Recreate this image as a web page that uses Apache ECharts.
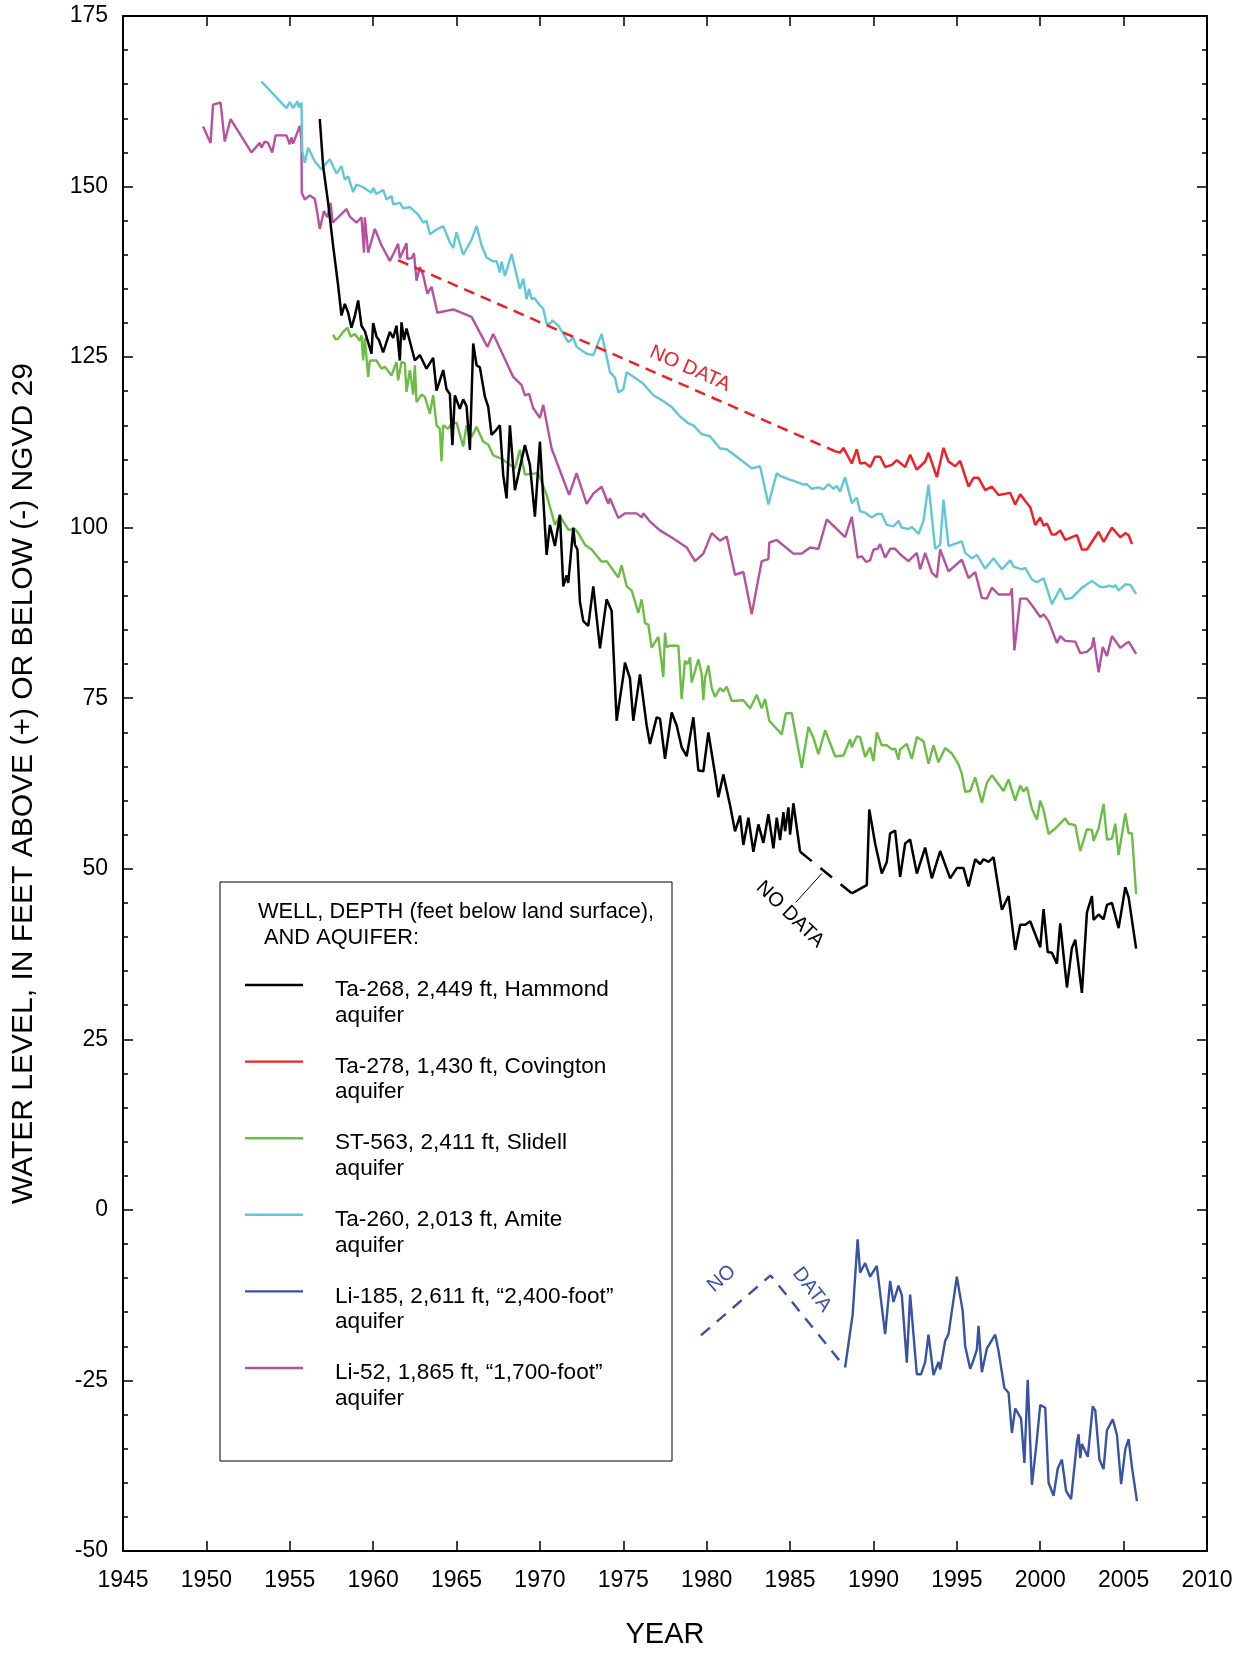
<!DOCTYPE html>
<html><head><meta charset="utf-8">
<script src="https://cdn.jsdelivr.net/npm/echarts/dist/echarts.min.js"></script>
<style>html,body{margin:0;padding:0;background:#fff}#chart{width:1249px;height:1654px}</style>
</head><body><div id="chart"></div>
<script>
// ---------------- DATA (year, water level in ft) ----------------
const ta268A = [[1956.8,159.9],[1957.0,153.0],[1957.3,147.6],[1957.6,141.3],[1957.9,135.5],[1958.1,131.1],[1958.3,132.8],[1958.5,131.5],[1958.7,129.3],[1958.9,131.0],[1959.1,133.3],[1959.3,129.6],[1959.5,128.8],[1959.9,125.5],[1960.0,130.0],[1960.2,128.0],[1960.35,127.5],[1960.6,125.7],[1961.0,128.7],[1961.2,127.8],[1961.4,129.6],[1961.6,124.5],[1961.7,130.1],[1961.85,127.5],[1962.0,129.2],[1962.5,124.5],[1962.8,125.3],[1963.2,123.3],[1963.6,124.9],[1963.8,120.1],[1964.2,123.1],[1964.4,120.3],[1964.6,119.6],[1964.75,112.1],[1964.9,119.4],[1965.2,117.4],[1965.4,118.8],[1965.6,117.8],[1965.8,111.4],[1966.0,127.0],[1966.2,123.8],[1966.4,123.5],[1966.7,119.2],[1966.9,117.7],[1967.1,113.6],[1967.3,114.1],[1967.6,115.0],[1967.8,107.7],[1968.0,104.3],[1968.2,115.0],[1968.5,105.5],[1968.8,108.8],[1969.1,112.1],[1969.4,109.2],[1969.7,101.6],[1970.0,112.6],[1970.4,96.0],[1970.6,100.4],[1970.9,97.3],[1971.2,101.9],[1971.4,91.4],[1971.6,93.0],[1971.7,91.9],[1972.0,100.0],[1972.1,97.5],[1972.25,96.8],[1972.4,89.1],[1972.6,86.3],[1972.9,85.6],[1973.2,91.4],[1973.6,82.3],[1974.0,89.5],[1974.3,87.8],[1974.6,71.7],[1975.0,78.3],[1975.1,80.2],[1975.4,77.9],[1975.6,71.7],[1976.0,78.5],[1976.4,71.0],[1976.6,68.3],[1977.0,72.2],[1977.2,72.0],[1977.5,66.1],[1977.9,72.9],[1978.2,71.0],[1978.5,67.8],[1978.8,66.5],[1979.2,72.2],[1979.5,64.4],[1979.8,64.3],[1980.1,70.0],[1980.5,63.9],[1980.7,60.5],[1981.0,63.8],[1981.4,59.3],[1981.7,55.5],[1982.0,57.8],[1982.2,53.5],[1982.5,57.5],[1982.8,52.5],[1983.1,56.5],[1983.4,53.8],[1983.7,58.0],[1984.0,53.0],[1984.2,57.5],[1984.4,54.2],[1984.6,58.3],[1984.7,55.5],[1984.9,59.0],[1985.0,55.0],[1985.2,59.6],[1985.6,52.5]];
const ta268Gap = [[1985.6,52.5],[1988.7,46.4]];
const ta268B = [[1988.7,46.4],[1989.6,47.6],[1989.75,58.7],[1990.1,53.7],[1990.5,49.3],[1990.8,51.0],[1991.0,55.2],[1991.3,55.6],[1991.6,48.8],[1991.9,53.7],[1992.2,54.3],[1992.6,49.3],[1993.1,53.1],[1993.5,48.6],[1994.0,52.6],[1994.6,48.6],[1995.0,50.1],[1995.4,50.1],[1995.7,47.4],[1996.1,51.4],[1996.4,50.7],[1996.6,51.4],[1996.9,51.0],[1997.2,51.7],[1997.7,44.0],[1998.1,46.0],[1998.5,38.1],[1998.8,41.8],[1999.1,41.8],[1999.4,42.3],[2000.0,38.5],[2000.2,44.1],[2000.45,37.8],[2000.7,37.7],[2001.0,36.1],[2001.2,42.0],[2001.6,32.6],[2001.9,38.4],[2002.1,39.6],[2002.5,31.8],[2002.8,43.6],[2003.1,46.0],[2003.2,42.5],[2003.5,43.3],[2003.8,42.6],[2004.0,44.7],[2004.3,45.0],[2004.7,41.3],[2005.1,47.3],[2005.3,45.8],[2005.75,38.3]];
const ta268Leader = [[1985.35,45.1],[1986.9,49.3]];

const ta278Gap = [[1961.5,139.2],[1987.7,111.2]];
const ta278 = [[1987.7,111.2],[1988.0,111.0],[1988.2,111.7],[1988.7,109.4],[1989.0,111.5],[1989.2,109.4],[1989.5,109.5],[1989.8,108.9],[1990.1,110.4],[1990.4,110.4],[1990.7,108.9],[1991.1,109.2],[1991.4,109.9],[1991.9,108.9],[1992.2,110.7],[1992.6,108.5],[1993.1,109.7],[1993.3,111.0],[1993.8,107.4],[1994.2,111.7],[1994.5,109.7],[1994.9,109.0],[1995.2,109.8],[1995.7,106.0],[1996.0,107.3],[1996.3,107.3],[1996.7,105.5],[1997.1,106.0],[1997.5,104.8],[1998.2,105.1],[1998.5,103.4],[1998.8,104.9],[1999.1,103.9],[1999.4,103.0],[1999.7,100.4],[2000.0,101.5],[2000.2,100.3],[2000.4,100.6],[2000.7,99.0],[2000.9,99.0],[2001.2,99.6],[2001.5,98.2],[2002.2,98.9],[2002.5,96.8],[2002.8,96.8],[2003.2,98.3],[2003.5,99.4],[2003.8,97.9],[2004.3,100.0],[2004.8,98.6],[2005.1,99.2],[2005.3,98.9],[2005.5,97.6]];

const st563 = [[1957.6,128.3],[1957.75,127.6],[1957.9,127.7],[1958.2,128.7],[1958.45,129.3],[1958.65,128.0],[1958.9,128.4],[1959.2,127.4],[1959.3,128.2],[1959.4,124.5],[1959.5,127.8],[1959.7,122.1],[1959.8,124.5],[1960.2,124.5],[1960.5,123.3],[1960.7,123.6],[1961.1,122.3],[1961.4,124.3],[1961.5,121.6],[1961.7,124.3],[1961.9,124.1],[1962.0,119.9],[1962.2,123.1],[1962.4,119.5],[1962.5,123.8],[1962.6,118.4],[1962.9,119.5],[1963.1,119.2],[1963.4,116.7],[1963.6,119.4],[1963.8,115.0],[1964.0,114.5],[1964.1,109.7],[1964.2,115.0],[1964.5,114.5],[1964.7,115.3],[1965.0,115.4],[1965.4,111.9],[1965.6,115.0],[1965.9,113.3],[1966.2,114.8],[1966.6,112.6],[1966.9,112.2],[1967.2,110.6],[1967.7,110.1],[1968.5,108.7],[1968.8,111.4],[1969.1,107.8],[1969.9,108.0],[1970.4,104.8],[1970.9,100.4],[1971.2,101.7],[1971.7,99.7],[1972.1,99.8],[1972.3,99.2],[1972.7,97.5],[1973.1,96.8],[1973.7,95.0],[1974.0,95.1],[1974.7,92.7],[1974.9,94.5],[1975.2,91.4],[1975.5,90.8],[1975.9,87.5],[1976.1,89.5],[1976.3,86.0],[1976.5,85.8],[1976.7,82.4],[1977.1,84.0],[1977.4,78.1],[1977.5,84.6],[1977.6,82.5],[1977.8,82.7],[1978.3,82.7],[1978.5,74.9],[1978.7,80.5],[1978.85,80.0],[1979.0,81.0],[1979.1,77.3],[1979.5,80.7],[1979.7,78.5],[1979.8,74.7],[1979.9,78.0],[1980.1,79.8],[1980.3,76.5],[1980.5,75.2],[1980.8,76.5],[1981.0,76.0],[1981.2,76.7],[1981.5,74.6],[1982.2,74.7],[1982.6,73.5],[1983.0,75.5],[1983.3,73.5],[1983.5,74.9],[1983.75,71.7],[1984.5,69.7],[1984.75,72.8],[1985.1,72.8],[1985.7,64.8],[1986.1,70.8],[1986.4,69.2],[1986.7,66.8],[1987.1,70.3],[1987.7,66.5],[1988.2,66.6],[1988.6,69.0],[1988.7,67.8],[1989.0,69.4],[1989.2,69.3],[1989.5,66.4],[1989.8,67.8],[1990.0,65.8],[1990.2,70.0],[1990.5,68.1],[1990.8,68.1],[1991.1,67.5],[1991.3,67.6],[1991.5,66.0],[1991.6,67.5],[1992.0,68.3],[1992.3,66.1],[1992.6,69.3],[1993.0,68.7],[1993.3,65.4],[1993.6,68.1],[1993.9,65.6],[1994.3,67.7],[1994.7,66.9],[1995.1,65.3],[1995.3,63.9],[1995.5,61.3],[1995.8,61.4],[1996.1,63.4],[1996.5,59.7],[1996.8,62.6],[1997.1,63.7],[1997.8,61.4],[1998.1,63.1],[1998.5,60.0],[1998.8,62.2],[1999.0,61.3],[1999.2,62.0],[1999.5,58.8],[1999.8,57.2],[2000.0,60.0],[2000.2,58.6],[2000.5,55.1],[2000.9,55.9],[2001.0,56.0],[2001.3,56.9],[2001.5,57.4],[2001.7,56.6],[2002.1,56.4],[2002.4,52.6],[2002.8,55.8],[2003.1,55.7],[2003.2,54.1],[2003.5,55.9],[2003.8,59.5],[2004.0,54.3],[2004.3,54.4],[2004.5,56.6],[2004.7,52.0],[2005.1,58.1],[2005.3,55.2],[2005.5,55.2],[2005.75,46.3]];

const ta260 = [[1953.3,165.4],[1954.8,161.5],[1955.0,162.4],[1955.2,161.5],[1955.45,162.5],[1955.55,161.6],[1955.7,162.3],[1955.75,155.2],[1955.9,153.5],[1956.1,155.7],[1956.5,153.7],[1956.9,152.5],[1957.1,153.2],[1957.4,154.0],[1957.8,151.9],[1958.1,153.0],[1958.3,151.0],[1958.5,151.5],[1958.8,149.2],[1959.0,150.3],[1959.4,149.9],[1959.9,149.1],[1960.0,149.8],[1960.2,148.9],[1960.6,149.5],[1960.8,148.1],[1961.1,148.6],[1961.2,147.4],[1961.6,147.6],[1961.8,146.8],[1962.2,147.0],[1962.7,145.9],[1963.0,144.7],[1963.2,145.0],[1963.4,143.0],[1963.8,143.7],[1964.2,144.2],[1964.6,141.8],[1964.8,141.0],[1965.0,143.3],[1965.4,140.0],[1965.9,142.2],[1966.2,144.2],[1966.5,141.4],[1966.8,139.6],[1967.2,139.0],[1967.4,139.1],[1967.6,137.4],[1967.7,139.0],[1967.9,136.9],[1968.3,140.1],[1968.8,135.0],[1969.0,136.5],[1969.2,133.5],[1969.35,135.0],[1969.5,133.5],[1969.65,133.7],[1970.0,132.6],[1970.2,132.1],[1970.4,129.9],[1970.6,129.9],[1970.75,130.4],[1971.1,129.6],[1971.7,127.2],[1972.0,127.8],[1972.2,126.5],[1972.8,125.5],[1973.2,125.3],[1973.7,128.4],[1974.2,122.8],[1974.5,122.0],[1974.7,119.8],[1975.0,120.3],[1975.2,122.8],[1975.8,121.8],[1976.2,121.1],[1976.8,119.4],[1977.3,118.7],[1977.9,117.7],[1978.4,116.3],[1978.9,115.3],[1979.2,115.0],[1979.7,113.7],[1980.2,113.4],[1980.8,111.6],[1981.2,111.5],[1981.8,110.4],[1982.7,108.7],[1983.2,109.0],[1983.7,103.4],[1984.2,108.0],[1984.4,107.6],[1985.0,107.0],[1985.3,106.8],[1985.8,106.3],[1986.0,106.4],[1986.3,105.7],[1986.7,105.9],[1987.0,105.6],[1987.3,106.4],[1987.6,105.7],[1987.8,106.1],[1988.0,105.3],[1988.3,107.4],[1988.7,103.6],[1989.0,104.4],[1989.2,102.4],[1989.5,102.2],[1989.9,101.5],[1990.2,102.0],[1990.5,102.0],[1990.8,100.4],[1991.2,100.2],[1991.5,101.0],[1991.7,100.0],[1992.1,99.8],[1992.3,100.1],[1992.7,99.1],[1993.0,101.0],[1993.3,106.3],[1993.7,96.9],[1994.0,97.5],[1994.2,104.1],[1994.5,97.3],[1995.3,98.0],[1995.5,96.3],[1995.9,95.5],[1996.2,96.0],[1996.7,94.0],[1997.2,95.5],[1997.7,93.9],[1998.2,95.2],[1998.4,94.3],[1998.9,93.9],[1999.1,94.1],[1999.5,92.4],[1999.8,92.0],[2000.2,92.6],[2000.7,88.8],[2001.2,91.1],[2001.5,89.5],[2001.9,89.7],[2002.5,91.2],[2003.1,92.2],[2003.6,91.3],[2003.9,91.3],[2004.1,91.5],[2004.4,91.3],[2004.5,91.6],[2004.7,90.8],[2005.1,91.7],[2005.4,91.6],[2005.75,90.3]];

const li185Gap = [[1979.65,-18.4],[1983.83,-9.6],[1988.0,-22.2]];
const li185 = [[1988.3,-23.1],[1988.75,-15.4],[1989.05,-4.3],[1989.2,-9.2],[1989.5,-7.8],[1989.8,-9.8],[1990.2,-8.2],[1990.7,-18.2],[1991.0,-10.4],[1991.2,-13.5],[1991.5,-11.1],[1991.7,-12.5],[1992.0,-22.4],[1992.2,-12.4],[1992.6,-24.1],[1992.85,-24.1],[1993.1,-22.3],[1993.3,-18.3],[1993.6,-24.2],[1993.9,-22.3],[1994.0,-23.4],[1994.3,-19.2],[1994.5,-18.2],[1995.0,-9.8],[1995.35,-14.8],[1995.5,-20.0],[1995.8,-23.3],[1996.0,-22.0],[1996.2,-20.5],[1996.3,-17.0],[1996.5,-23.8],[1996.8,-20.3],[1997.3,-18.3],[1997.5,-20.7],[1997.85,-26.1],[1998.1,-26.8],[1998.3,-32.7],[1998.5,-29.1],[1998.85,-30.6],[1999.05,-37.1],[1999.25,-24.9],[1999.5,-40.3],[1999.75,-34.9],[2000.0,-28.6],[2000.3,-29.0],[2000.5,-40.0],[2000.8,-41.9],[2001.05,-37.9],[2001.3,-36.6],[2001.55,-41.2],[2001.85,-42.4],[2002.2,-34.1],[2002.3,-32.9],[2002.4,-36.4],[2002.5,-34.3],[2002.85,-36.2],[2003.15,-28.8],[2003.3,-29.4],[2003.55,-36.6],[2003.8,-38.0],[2004.0,-32.3],[2004.35,-30.7],[2004.6,-33.0],[2004.85,-40.2],[2005.1,-35.1],[2005.3,-33.6],[2005.5,-37.7],[2005.8,-42.7]];

const li52 = [[1949.8,158.8],[1950.25,156.4],[1950.4,162.0],[1950.85,162.3],[1951.1,156.6],[1951.45,159.9],[1952.7,155.0],[1953.2,156.4],[1953.3,155.7],[1953.5,156.6],[1953.7,156.4],[1953.95,155.0],[1954.15,157.5],[1954.8,157.5],[1955.0,156.2],[1955.1,157.2],[1955.2,156.3],[1955.6,158.9],[1955.7,156.9],[1955.72,149.1],[1955.9,148.1],[1956.2,148.7],[1956.5,148.2],[1956.6,146.9],[1956.8,143.8],[1957.05,146.4],[1957.25,145.5],[1957.45,147.6],[1957.57,144.7],[1957.9,145.5],[1958.4,146.7],[1958.6,145.6],[1959.0,144.7],[1959.3,145.5],[1959.45,140.3],[1959.5,145.5],[1959.7,140.3],[1960.1,143.8],[1960.5,141.4],[1961.0,139.1],[1961.25,140.3],[1961.5,141.6],[1961.6,139.5],[1962.0,141.7],[1962.05,139.4],[1962.3,139.5],[1962.45,140.2],[1962.6,136.2],[1962.8,138.2],[1963.0,137.0],[1963.25,134.3],[1963.5,135.3],[1963.85,131.5],[1964.8,132.0],[1965.9,130.9],[1966.85,126.5],[1967.2,128.4],[1968.4,122.1],[1968.9,120.9],[1969.1,119.4],[1969.35,119.6],[1969.6,117.5],[1970.0,116.1],[1970.2,118.0],[1970.7,111.6],[1971.75,104.8],[1972.2,108.0],[1972.8,103.5],[1973.2,105.0],[1973.7,106.0],[1974.1,103.5],[1974.2,104.3],[1974.7,101.4],[1975.1,102.1],[1975.8,102.1],[1976.1,101.5],[1976.2,102.1],[1976.6,100.9],[1977.2,99.6],[1978.0,98.4],[1978.8,97.1],[1979.3,95.1],[1979.8,96.2],[1980.3,99.2],[1980.8,98.1],[1981.2,98.7],[1981.7,93.1],[1982.2,93.5],[1982.7,87.3],[1983.3,95.1],[1983.7,95.4],[1983.75,97.8],[1984.2,98.2],[1985.2,96.2],[1985.7,96.2],[1986.2,97.1],[1986.7,96.9],[1987.2,101.2],[1988.3,98.6],[1988.7,101.6],[1989.05,95.6],[1989.3,95.8],[1989.55,95.0],[1989.8,95.2],[1990.0,96.8],[1990.25,96.9],[1990.4,97.6],[1990.7,95.6],[1991.0,96.9],[1991.3,96.9],[1991.6,96.1],[1992.1,95.1],[1992.6,96.3],[1992.8,93.9],[1993.1,96.3],[1993.5,93.4],[1993.8,92.7],[1994.0,96.8],[1994.5,93.6],[1995.3,95.3],[1995.7,92.6],[1996.1,93.5],[1996.5,89.7],[1996.8,89.6],[1997.1,91.2],[1997.5,90.2],[1998.2,90.2],[1998.3,91.1],[1998.45,82.0],[1998.8,89.6],[1999.2,89.6],[1999.6,88.3],[2000.0,86.9],[2000.2,87.3],[2000.5,86.3],[2001.0,83.1],[2001.2,84.1],[2001.5,83.4],[2002.1,83.3],[2002.4,81.6],[2002.8,81.8],[2003.1,82.5],[2003.2,83.9],[2003.5,78.8],[2003.75,82.5],[2004.0,81.2],[2004.3,84.1],[2004.8,82.4],[2005.3,83.3],[2005.75,81.5]];

const yearTicks = {min: 1945, max: 2010, step: 5};
const levelTicks = {min: -50, max: 175, step: 25};

const legendTitle = ['WELL, DEPTH (feet below land surface),', ' AND AQUIFER:'];
const legendItems = [
  ['Ta-268, 2,449 ft, Hammond', 'aquifer'],
  ['Ta-278, 1,430 ft, Covington', 'aquifer'],
  ['ST-563, 2,411 ft, Slidell', 'aquifer'],
  ['Ta-260, 2,013 ft, Amite', 'aquifer'],
  ['Li-185, 2,611 ft, \u201c2,400-foot\u201d', 'aquifer'],
  ['Li-52, 1,865 ft, \u201c1,700-foot\u201d', 'aquifer']
];
// annotation anchor points in data space
const notes = [
  {text: 'NO DATA', at: [1979.0, 123.3], angle: -24, color: 'red'},
  {text: 'NO DATA', at: [1985.0, 43.3], angle: -44, color: 'black'},
  {text: 'NO', at: [1980.9, -10.1], angle: 41, color: 'blue'},
  {text: 'DATA', at: [1986.3, -11.7], angle: -52, color: 'blue'}
];

// ---------------- STYLE ----------------
const C = {black: '#000000', red: '#ee2127', green: '#6cbd45', cyan: '#62c6d9', blue: '#3953a4', magenta: '#b5519f'};
const legendColors = [C.black, C.red, C.green, C.cyan, C.blue, C.magenta];
const FONT = '"Liberation Sans", Arial, Helvetica, sans-serif';

const chart = echarts.init(document.getElementById('chart'));

function solid(name, data, color, w) {
  return {name, type: 'line', data, showSymbol: false, symbol: 'none', silent: true,
    lineStyle: {color, width: w || 2.4}, itemStyle: {color}, z: 3};
}
function dashed(name, data, color, dash, w) {
  return {name, type: 'line', data, showSymbol: false, symbol: 'none', silent: true,
    lineStyle: {color, width: w || 2.4, type: dash}, itemStyle: {color}, z: 3};
}

const axisLineStyle = {color: '#000', width: 2};
const baseX = {type: 'value', min: yearTicks.min, max: yearTicks.max, interval: yearTicks.step,
  splitLine: {show: false}, axisLine: {show: true, onZero: false, lineStyle: axisLineStyle},
  axisTick: {show: true, inside: true, length: 10, lineStyle: {color: '#000', width: 1.5}}};
const baseY = {type: 'value', min: levelTicks.min, max: levelTicks.max, interval: levelTicks.step,
  splitLine: {show: false}, axisLine: {show: true, onZero: false, lineStyle: axisLineStyle},
  axisTick: {show: true, inside: true, length: 10, lineStyle: {color: '#000', width: 1.5}},
  minorTick: {show: true, splitNumber: 5, length: 5, lineStyle: {color: '#000', width: 1.5}},
  minorSplitLine: {show: false}};

chart.setOption({
  animation: false,
  backgroundColor: '#fff',
  grid: {left: 123, right: 42, top: 16, bottom: 91, containLabel: false},
  xAxis: [
    Object.assign({}, baseX, {position: 'bottom',
      axisLabel: {show: true, fontSize: 23, color: '#000', margin: 18, fontFamily: FONT, formatter: v => String(v)},
      name: 'YEAR', nameLocation: 'middle', nameGap: 69,
      nameTextStyle: {fontSize: 29, color: '#000', fontFamily: FONT}}),
    Object.assign({}, baseX, {position: 'top', axisLabel: {show: false}})
  ],
  yAxis: [
    Object.assign({}, baseY, {position: 'left',
      axisLabel: {show: true, fontSize: 23, color: '#000', margin: 15, fontFamily: FONT, formatter: v => String(v)},
      name: 'WATER LEVEL, IN FEET ABOVE (+) OR BELOW (-) NGVD 29', nameLocation: 'middle', nameGap: 84,
      nameTextStyle: {fontSize: 30, color: '#000', fontFamily: FONT}}),
    Object.assign({}, baseY, {position: 'right', axisLabel: {show: false}})
  ],
  series: [
    solid('Li-52', li52, C.magenta),
    solid('Ta-260', ta260, C.cyan),
    dashed('Ta-278 gap', ta278Gap, C.red, [11, 7], 2.5),
    solid('Ta-278', ta278, C.red, 2.5),
    solid('ST-563', st563, C.green),
    dashed('Li-185 gap', li185Gap, C.blue, [12, 9], 2.4),
    solid('Li-185', li185, C.blue),
    solid('Ta-268', ta268A, C.black, 2.5),
    dashed('Ta-268 gap', ta268Gap, C.black, [15, 11], 2.5),
    solid('Ta-268 b', ta268B, C.black, 2.5),
    solid('leader', ta268Leader, C.black, 1)
  ]
});

// ---------------- LEGEND + NOTES (graphic) ----------------
const g = [];
const box = {x: 220, y: 882, w: 452, h: 579};
g.push({type: 'rect', shape: {x: box.x, y: box.y, width: box.w, height: box.h},
  style: {fill: '#fff', stroke: '#000', lineWidth: 1}, z: 10});
g.push({type: 'text', x: 258, y: 912, z: 11,
  style: {text: legendTitle[0], fill: '#000', font: '21.8px ' + FONT, align: 'left', verticalAlign: 'middle'}});
g.push({type: 'text', x: 258, y: 938, z: 11,
  style: {text: legendTitle[1], fill: '#000', font: '21.8px ' + FONT, align: 'left', verticalAlign: 'middle'}});
legendItems.forEach((it, i) => {
  const y = 985 + i * 76.6;
  g.push({type: 'line', shape: {x1: 245, y1: y, x2: 303, y2: y}, style: {stroke: legendColors[i], lineWidth: 2.4}, z: 11});
  g.push({type: 'text', x: 335, y: y + 5, z: 11,
    style: {text: it[0], fill: '#000', font: '22.6px ' + FONT, align: 'left', verticalAlign: 'middle'}});
  g.push({type: 'text', x: 335, y: y + 30.5, z: 11,
    style: {text: it[1], fill: '#000', font: '22.6px ' + FONT, align: 'left', verticalAlign: 'middle'}});
});
notes.forEach(n => {
  const p = chart.convertToPixel({gridIndex: 0}, n.at);
  g.push({type: 'text', x: p[0], y: p[1], rotation: n.angle * Math.PI / 180, z: 12,
    style: {text: n.text, fill: C[n.color], font: '20px ' + FONT, align: 'center', verticalAlign: 'middle'}});
});
chart.setOption({graphic: g});
</script></body></html>
